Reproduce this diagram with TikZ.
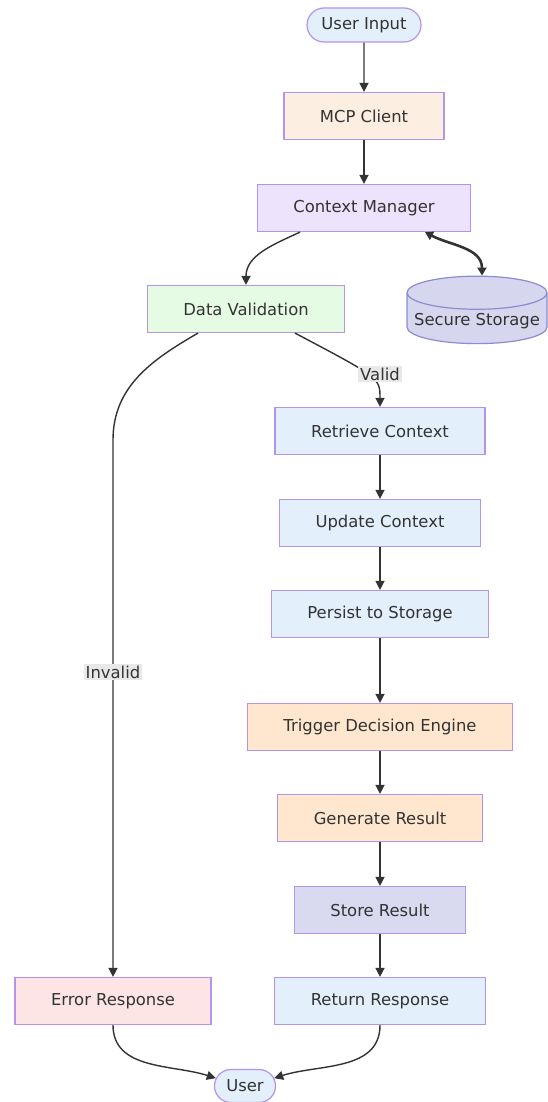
\documentclass[tikz,border=0pt]{standalone}
\usepackage{fontspec}
\setmainfont{DejaVu Sans}
\usetikzlibrary{shapes.geometric,shapes.misc,arrows.meta}
\definecolor{bdr}{HTML}{B294EA}
\definecolor{txt}{HTML}{333333}
\definecolor{lnk}{HTML}{333333}
\definecolor{cBlue}{HTML}{E3F0FC}
\definecolor{cPeach}{HTML}{FCEEE1}
\definecolor{cLilac}{HTML}{EEE3FC}
\definecolor{cGreen}{HTML}{E6FBE4}
\definecolor{cOrange}{HTML}{FFE7CF}
\definecolor{cDisk}{HTML}{D6D6EE}
\definecolor{cDiskBd}{HTML}{8C8CD0}
\definecolor{cStore}{HTML}{D9D9F0}
\definecolor{cRed}{HTML}{FDE5E5}
\definecolor{cLabel}{HTML}{E8E8E8}
\tikzset{
	box/.style={draw=bdr, line width=1.2pt, minimum height=47pt, inner xsep=36pt, text=txt, font=\fontsize{16.4}{18}\selectfont},
	term/.style={rounded rectangle, draw=bdr, line width=1.2pt, fill=cBlue, text=txt, inner sep=2pt, font=\fontsize{16.4}{18}\selectfont},
	disk/.style={cylinder, shape border rotate=90, aspect=0.25, draw=cDiskBd, line width=1.2pt, fill=cDisk, text=txt, font=\fontsize{16.4}{18}\selectfont},
	arr/.style={draw=lnk, line width=1.4pt, -{Triangle[length=9pt,width=9pt]}},
	dbl/.style={draw=lnk, line width=2.6pt, {Triangle[length=8pt,width=9pt]}-{Triangle[length=8pt,width=9pt]}},
	lbl/.style={fill=cLabel, text=txt, inner sep=2pt, font=\fontsize{16.4}{18}\selectfont}
}
\begin{document}
\begin{tikzpicture}[x=1pt,y=-1pt]
	\useasboundingbox[fill=white] (0,0) rectangle (547,1102);
	% top part
	\node[term, minimum width=118pt, minimum height=34pt] (ui) at (364,25) {User Input};
	\node[box, fill=cPeach] (mc) at (364,116) {MCP Client};
	\node[box, fill=cLilac] (cm) at (364,208) {Context Manager};
	\node[box, fill=cGreen] (dv) at (246,309) {Data Validation};
	\node[disk, minimum width=140pt, minimum height=66pt] (ss) at (477,321) {Secure Storage};
	% valid branch
	\node[box, fill=cBlue] (rc) at (380,431) {Retrieve Context};
	\node[box, fill=cBlue] (uc) at (380,523) {Update Context};
	\node[box, fill=cBlue] (ps) at (380,614) {Persist to Storage};
	\node[box, fill=cOrange] (td) at (380,727) {Trigger Decision Engine};
	\node[box, fill=cOrange] (gr) at (380,818) {Generate Result};
	\node[box, fill=cStore] (sr) at (380,910) {Store Result};
	\node[box, fill=cBlue] (rr) at (380,1001) {Return Response};
	% invalid branch
	\node[box, fill=cRed] (er) at (113,1001) {Error Response};
	\node[term, minimum width=65pt, minimum height=33pt] (us) at (245,1086) {User};

	\draw[arr] (ui) -- (mc);
	\draw[arr] (mc) -- (cm);
	\draw[arr] ([xshift=-64pt]cm.south) to[out=-155,in=90] (dv.north);
	\draw[dbl] ([xshift=61pt]cm.south) to[out=-28,in=90] ([xshift=5pt]ss.north);
	\draw[arr] ([xshift=49pt]dv.south) .. controls (380,378) .. (rc.north);
	\node[lbl] (valid) at (rc.north |- 0,374) {Valid};
	\coordinate (bend) at (er.north |- 0,440);
	\draw[arr] ([xshift=-48pt]dv.south) to[out=-150,in=90] (bend) -- (er.north);
	\node[lbl] (invalid) at (er.north |- 0,672) {Invalid};
	\draw[arr] (rc) -- (uc);
	\draw[arr] (uc) -- (ps);
	\draw[arr] (ps) -- (td);
	\draw[arr] (td) -- (gr);
	\draw[arr] (gr) -- (sr);
	\draw[arr] (sr) -- (rr);
	\draw[arr] (er.south) to[out=-90,in=162] (us.165);
	\draw[arr] (rr.south) to[out=-90,in=18] (us.15);
\end{tikzpicture}
\end{document}
